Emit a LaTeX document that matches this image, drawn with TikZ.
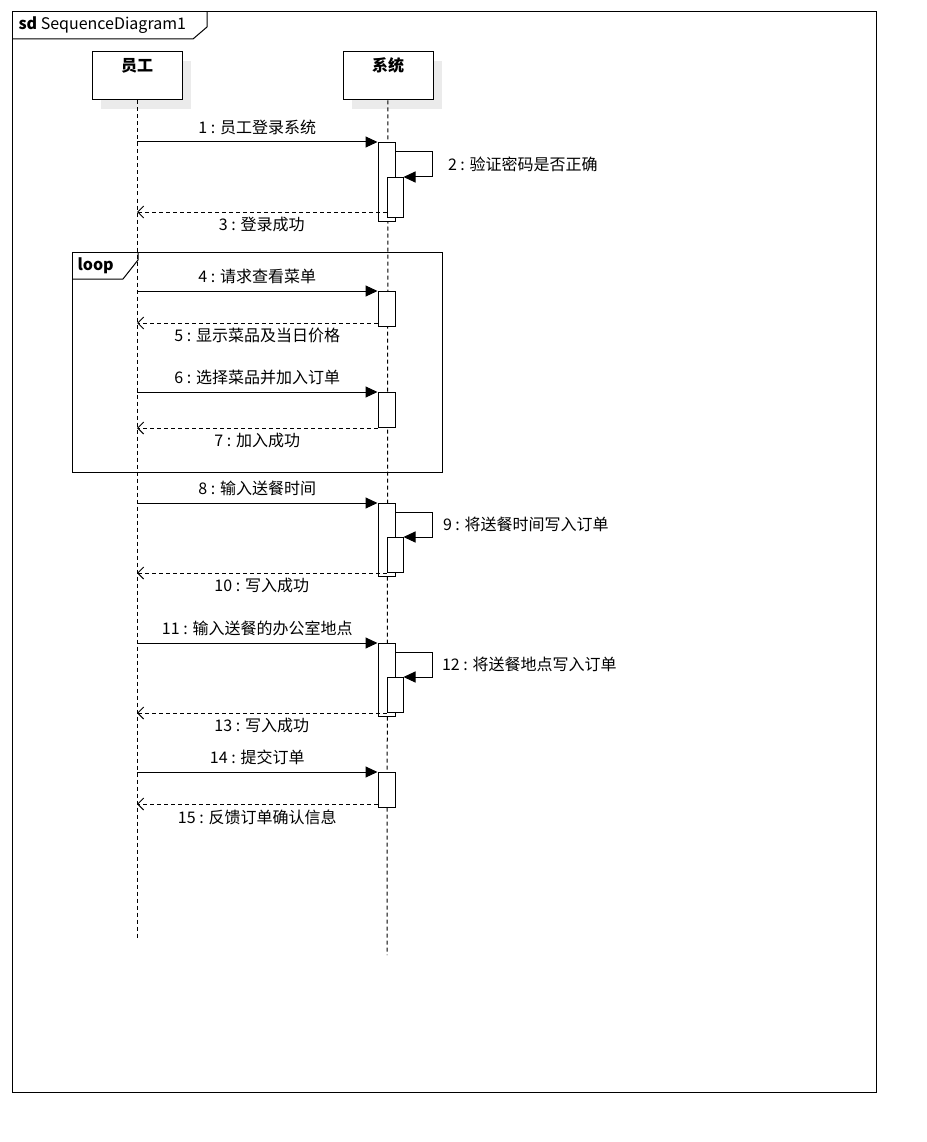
\documentclass[tikz,border=0pt]{standalone}
\usepackage{fontspec}
\setmainfont{Noto Sans CJK SC}
\usetikzlibrary{arrows.meta, positioning, shadows}

\begin{document}
\begin{tikzpicture}[x=1pt, y=-1pt, node distance=10pt, line width=1pt,
    font=\fontsize{16pt}{19pt}\selectfont,
    head/.style={draw, fill=white, minimum width=90pt, text height=16pt, text depth=24pt, inner ysep=4pt,
        font=\fontsize{16pt}{19pt}\selectfont\bfseries,
        drop shadow={shadow xshift=9pt, shadow yshift=-9pt, fill=black!8, opacity=1}},
    act/.style={draw, fill=white, anchor=north, minimum width=17pt, inner sep=0pt},
    sub/.style={act, minimum width=16pt},
    call/.style={-{Triangle[length=12pt, width=11pt]}},
    ret/.style={dash pattern=on 4pt off 3pt, -{Straight Barb[length=6pt, width=12pt]}},
    lifeline/.style={dash pattern=on 4pt off 3pt},
    msg/.style={inner sep=2pt}]
    \useasboundingbox (0,0) rectangle (926,1142);

    \draw (12,12) rectangle (876,1092);
    \draw (12,39) -- (193,39) -- (207,27) -- (207,12);
    \node[anchor=west, inner sep=0pt] (Frame) at (18,25) {\textbf{sd}\ SequenceDiagram1};

    \node[head] at (137,76)               (Actor 0)  {员工};
    \node[head, right=160pt of Actor 0]   (Actor 1)  {系统};
    \coordinate (End 0) at (137,940);
    \coordinate (End 1) at (387,955);
    \draw[lifeline] (Actor 0) -- (End 0);
    \draw[lifeline] (Actor 1) -- (End 1);

    \draw (72,252) rectangle (442,472);
    \draw (72,279) -- (123,279) -- (138,260) -- (138,252);
    \node[anchor=west, inner sep=0pt, font=\fontsize{16pt}{19pt}\selectfont\bfseries] (Loop) at (77,266) {loop};

    \node[act, minimum height=79pt] (Act 1) at (386.5,142) {};
    \node[sub, minimum height=40pt] (Act 2) at (395,177) {};
    \node[act, minimum height=35pt] (Act 3) at (386.5,291) {};
    \node[act, minimum height=35pt] (Act 4) at (386.5,392) {};
    \node[act, minimum height=73pt] (Act 5) at (386.5,503) {};
    \node[sub, minimum height=35pt] (Act 6) at (395,537) {};
    \node[act, minimum height=73pt] (Act 7) at (386.5,643) {};
    \node[sub, minimum height=35pt] (Act 8) at (395,677) {};
    \node[act, minimum height=35pt] (Act 9) at (386.5,772) {};

    \draw[call] (Act 1.north west -| Actor 0) -- node[msg, above=5pt] (Msg 1) {1 : 员工登录系统} (Act 1.north west);
    \draw[call] ([yshift=-10pt]Act 1.north east) -- ++(37,0) |- node[msg, pos=0.25, right=13pt] (Msg 2) {2 : 验证密码是否正确} (Act 2.north east);
    \draw[ret] ([yshift=6pt]Act 2.south west) -- node[msg, below=3pt] (Msg 3) {3 : 登录成功} ([yshift=6pt]Act 2.south west -| Actor 0);

    \draw[call] (Act 3.north west -| Actor 0) -- node[msg, above=5pt] (Msg 4) {4 : 请求查看菜单} (Act 3.north west);
    \draw[ret] ([yshift=4pt]Act 3.south west) -- node[msg, below=3pt] (Msg 5) {5 : 显示菜品及当日价格} ([yshift=4pt]Act 3.south west -| Actor 0);
    \draw[call] (Act 4.north west -| Actor 0) -- node[msg, above=5pt] (Msg 6) {6 : 选择菜品并加入订单} (Act 4.north west);
    \draw[ret] (Act 4.south west) -- node[msg, below=3pt] (Msg 7) {7 : 加入成功} (Act 4.south west -| Actor 0);

    \draw[call] (Act 5.north west -| Actor 0) -- node[msg, above=5pt] (Msg 8) {8 : 输入送餐时间} (Act 5.north west);
    \draw[call] ([yshift=-9pt]Act 5.north east) -- ++(37,0) |- node[msg, pos=0.25, right=8pt] (Msg 9) {9 : 将送餐时间写入订单} (Act 6.north east);
    \draw[ret] (Act 6.south west) -- node[msg, below=3pt] (Msg 10) {10 : 写入成功} (Act 6.south west -| Actor 0);

    \draw[call] (Act 7.north west -| Actor 0) -- node[msg, above=5pt] (Msg 11) {11 : 输入送餐的办公室地点} (Act 7.north west);
    \draw[call] ([yshift=-9pt]Act 7.north east) -- ++(37,0) |- node[msg, pos=0.25, right=7pt] (Msg 12) {12 : 将送餐地点写入订单} (Act 8.north east);
    \draw[ret] (Act 8.south west) -- node[msg, below=3pt] (Msg 13) {13 : 写入成功} (Act 8.south west -| Actor 0);

    \draw[call] (Act 9.north west -| Actor 0) -- node[msg, above=5pt] (Msg 14) {14 : 提交订单} (Act 9.north west);
    \draw[ret] ([yshift=4pt]Act 9.south west) -- node[msg, below=3pt] (Msg 15) {15 : 反馈订单确认信息} ([yshift=4pt]Act 9.south west -| Actor 0);
\end{tikzpicture}
\end{document}
